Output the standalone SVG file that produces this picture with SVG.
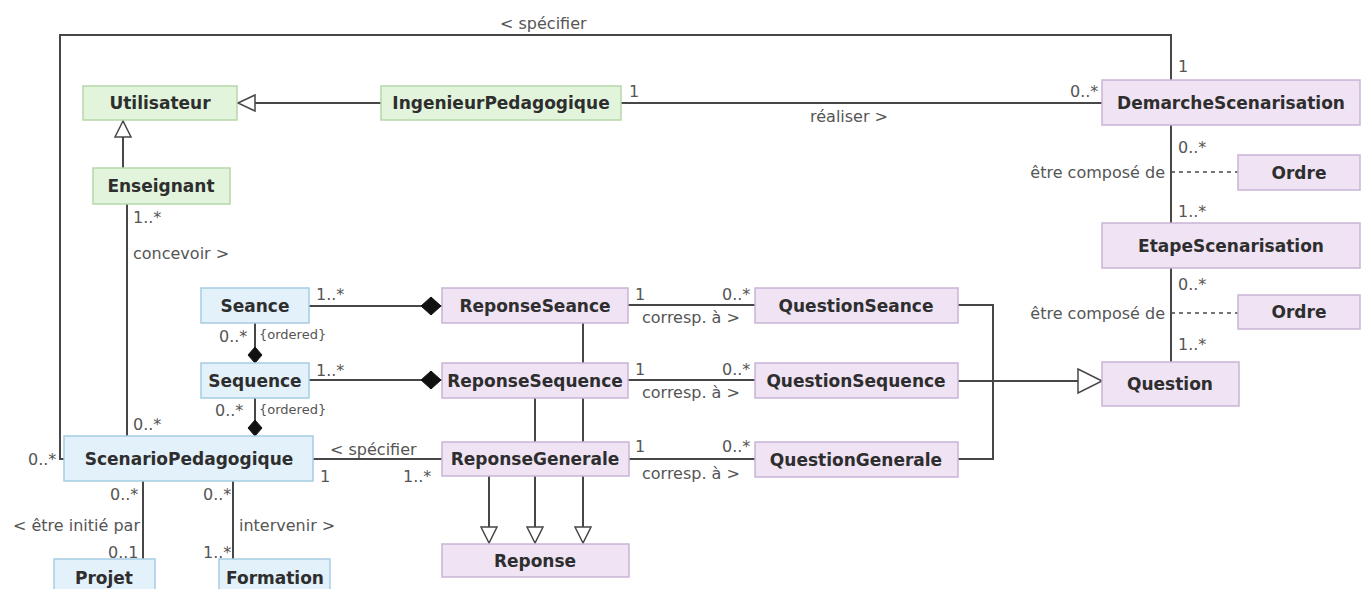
<svg xmlns="http://www.w3.org/2000/svg" width="1362" height="589" viewBox="0 0 1362 589">
<style>
.g rect{fill:#e2f4dc;stroke:#b5d8aa;stroke-width:1.5}
.b rect{fill:#e3f1fa;stroke:#a6cbe3;stroke-width:1.5}
.p rect{fill:#efe3f4;stroke:#c9b4d5;stroke-width:1.5}
.n text{font-family:"DejaVu Sans",sans-serif;font-weight:bold;font-size:17px;fill:#2e2e2e;text-anchor:middle}
.lbl{font-family:"DejaVu Sans",sans-serif;font-size:16px;fill:#555}
.sm{font-family:"DejaVu Sans",sans-serif;font-size:13px;fill:#555}
#connectors line,#connectors path{stroke:#474747;stroke-width:2;fill:none}
#connectors .tri{fill:#fff;stroke:#474747;stroke-width:1.5}
#connectors .dia{fill:#111;stroke:#111;stroke-width:1}
#connectors .dash{stroke-dasharray:4 4;stroke-width:1.5}
</style>
<rect width="1362" height="589" fill="#fff"/>
<g id="connectors">
  <path d="M65,459 H60 V35 H1171 V362"/>
  <line x1="237" y1="103" x2="381" y2="103"/>
  <line x1="621" y1="103" x2="1102" y2="103"/>
  <line x1="123" y1="120" x2="123" y2="168"/>
  <line x1="127" y1="204" x2="127" y2="436"/>
  <line x1="1171" y1="172" x2="1238" y2="172" class="dash"/>
  <line x1="1171" y1="313" x2="1238" y2="313" class="dash"/>
  <line x1="309" y1="306" x2="442" y2="306"/>
  <line x1="309" y1="380" x2="442" y2="380"/>
  <line x1="255" y1="323" x2="255" y2="363"/>
  <line x1="255" y1="398" x2="255" y2="436"/>
  <line x1="313" y1="459" x2="442" y2="459"/>
  <line x1="628" y1="305" x2="755" y2="305"/>
  <line x1="628" y1="380" x2="755" y2="380"/>
  <line x1="629" y1="459" x2="755" y2="459"/>
  <path d="M958,305 H993 V459 H958"/>
  <line x1="958" y1="381" x2="1102" y2="381"/>
  <line x1="583" y1="323" x2="583" y2="543"/>
  <line x1="535" y1="398" x2="535" y2="543"/>
  <line x1="489" y1="476" x2="489" y2="543"/>
  <line x1="143" y1="481" x2="143" y2="559"/>
  <line x1="233" y1="481" x2="233" y2="559"/>
  <polygon class="tri" points="238,103 255,95 255,111"/>
  <polygon class="tri" points="123,121 115,137 131,137"/>
  <polygon class="tri" points="1102,381 1078,369 1078,393"/>
  <polygon class="tri" points="489,543 481,527 497,527"/>
  <polygon class="tri" points="535,543 527,527 543,527"/>
  <polygon class="tri" points="583,543 575,527 591,527"/>
  <polygon class="dia" points="441,306 431,297 421,306 431,315"/>
  <polygon class="dia" points="441,380 431,371 421,380 431,389"/>
  <polygon class="dia" points="255,363 248,355 255,347 262,355"/>
  <polygon class="dia" points="255,436 248,428 255,420 262,428"/>
</g>
<g id="labels">
  <text class="lbl" x="500" y="29">&lt; spécifier</text>
  <text class="lbl" x="1178" y="72">1</text>
  <text class="lbl" x="1070" y="97">0..*</text>
  <text class="lbl" x="629" y="97">1</text>
  <text class="lbl" x="810" y="122">réaliser &gt;</text>
  <text class="lbl" x="1178" y="153">0..*</text>
  <text class="lbl" x="1165" y="178" text-anchor="end">être composé de</text>
  <text class="lbl" x="1178" y="217">1..*</text>
  <text class="lbl" x="1178" y="290">0..*</text>
  <text class="lbl" x="1165" y="319" text-anchor="end">être composé de</text>
  <text class="lbl" x="1178" y="350">1..*</text>
  <text class="lbl" x="133" y="223">1..*</text>
  <text class="lbl" x="133" y="259">concevoir &gt;</text>
  <text class="lbl" x="316" y="300">1..*</text>
  <text class="lbl" x="219" y="342">0..*</text>
  <text class="sm" x="259" y="339">{ordered}</text>
  <text class="lbl" x="316" y="376">1..*</text>
  <text class="lbl" x="215" y="416">0..*</text>
  <text class="sm" x="259" y="414">{ordered}</text>
  <text class="lbl" x="133" y="430">0..*</text>
  <text class="lbl" x="28" y="465">0..*</text>
  <text class="lbl" x="330" y="455">&lt; spécifier</text>
  <text class="lbl" x="320" y="482">1</text>
  <text class="lbl" x="403" y="482">1..*</text>
  <text class="lbl" x="110" y="500">0..*</text>
  <text class="lbl" x="13" y="531">&lt; être initié par</text>
  <text class="lbl" x="108" y="558">0..1</text>
  <text class="lbl" x="203" y="500">0..*</text>
  <text class="lbl" x="239" y="531">intervenir &gt;</text>
  <text class="lbl" x="203" y="558">1..*</text>
  <text class="lbl" x="635" y="300">1</text>
  <text class="lbl" x="722" y="300">0..*</text>
  <text class="lbl" x="642" y="323">corresp. à &gt;</text>
  <text class="lbl" x="635" y="375">1</text>
  <text class="lbl" x="722" y="375">0..*</text>
  <text class="lbl" x="642" y="398">corresp. à &gt;</text>
  <text class="lbl" x="635" y="452">1</text>
  <text class="lbl" x="722" y="452">0..*</text>
  <text class="lbl" x="642" y="479">corresp. à &gt;</text>
</g>
<g id="Utilisateur" class="n g"><rect x="83" y="86" width="154" height="34"/><text x="160" y="109">Utilisateur</text></g>
<g id="IngenieurPedagogique" class="n g"><rect x="381" y="86" width="240" height="34"/><text x="501" y="109">IngenieurPedagogique</text></g>
<g id="Enseignant" class="n g"><rect x="93" y="168" width="137" height="36"/><text x="161" y="192">Enseignant</text></g>
<g id="DemarcheScenarisation" class="n p"><rect x="1102" y="80" width="258" height="45"/><text x="1231" y="109">DemarcheScenarisation</text></g>
<g id="Ordre1" class="n p"><rect x="1238" y="155" width="122" height="35"/><text x="1299" y="179">Ordre</text></g>
<g id="EtapeScenarisation" class="n p"><rect x="1102" y="223" width="258" height="45"/><text x="1231" y="252">EtapeScenarisation</text></g>
<g id="Ordre2" class="n p"><rect x="1238" y="295" width="122" height="34"/><text x="1299" y="318">Ordre</text></g>
<g id="Question" class="n p"><rect x="1102" y="362" width="137" height="44"/><text x="1170" y="390">Question</text></g>
<g id="Seance" class="n b"><rect x="201" y="288" width="108" height="35"/><text x="255" y="312">Seance</text></g>
<g id="Sequence" class="n b"><rect x="201" y="363" width="108" height="35"/><text x="255" y="387">Sequence</text></g>
<g id="ScenarioPedagogique" class="n b"><rect x="64" y="436" width="249" height="45"/><text x="189" y="465">ScenarioPedagogique</text></g>
<g id="Projet" class="n b"><rect x="54" y="559" width="101" height="36"/><text x="104" y="584">Projet</text></g>
<g id="Formation" class="n b"><rect x="219" y="559" width="111" height="36"/><text x="275" y="584">Formation</text></g>
<g id="ReponseSeance" class="n p"><rect x="442" y="288" width="186" height="35"/><text x="535" y="312">ReponseSeance</text></g>
<g id="ReponseSequence" class="n p"><rect x="442" y="363" width="186" height="35"/><text x="535" y="387">ReponseSequence</text></g>
<g id="ReponseGenerale" class="n p"><rect x="442" y="442" width="187" height="34"/><text x="535" y="465">ReponseGenerale</text></g>
<g id="Reponse" class="n p"><rect x="442" y="544" width="187" height="33"/><text x="535" y="567">Reponse</text></g>
<g id="QuestionSeance" class="n p"><rect x="755" y="288" width="203" height="35"/><text x="856" y="312">QuestionSeance</text></g>
<g id="QuestionSequence" class="n p"><rect x="755" y="363" width="203" height="35"/><text x="856" y="387">QuestionSequence</text></g>
<g id="QuestionGenerale" class="n p"><rect x="755" y="442" width="203" height="35"/><text x="856" y="466">QuestionGenerale</text></g>
</svg>
